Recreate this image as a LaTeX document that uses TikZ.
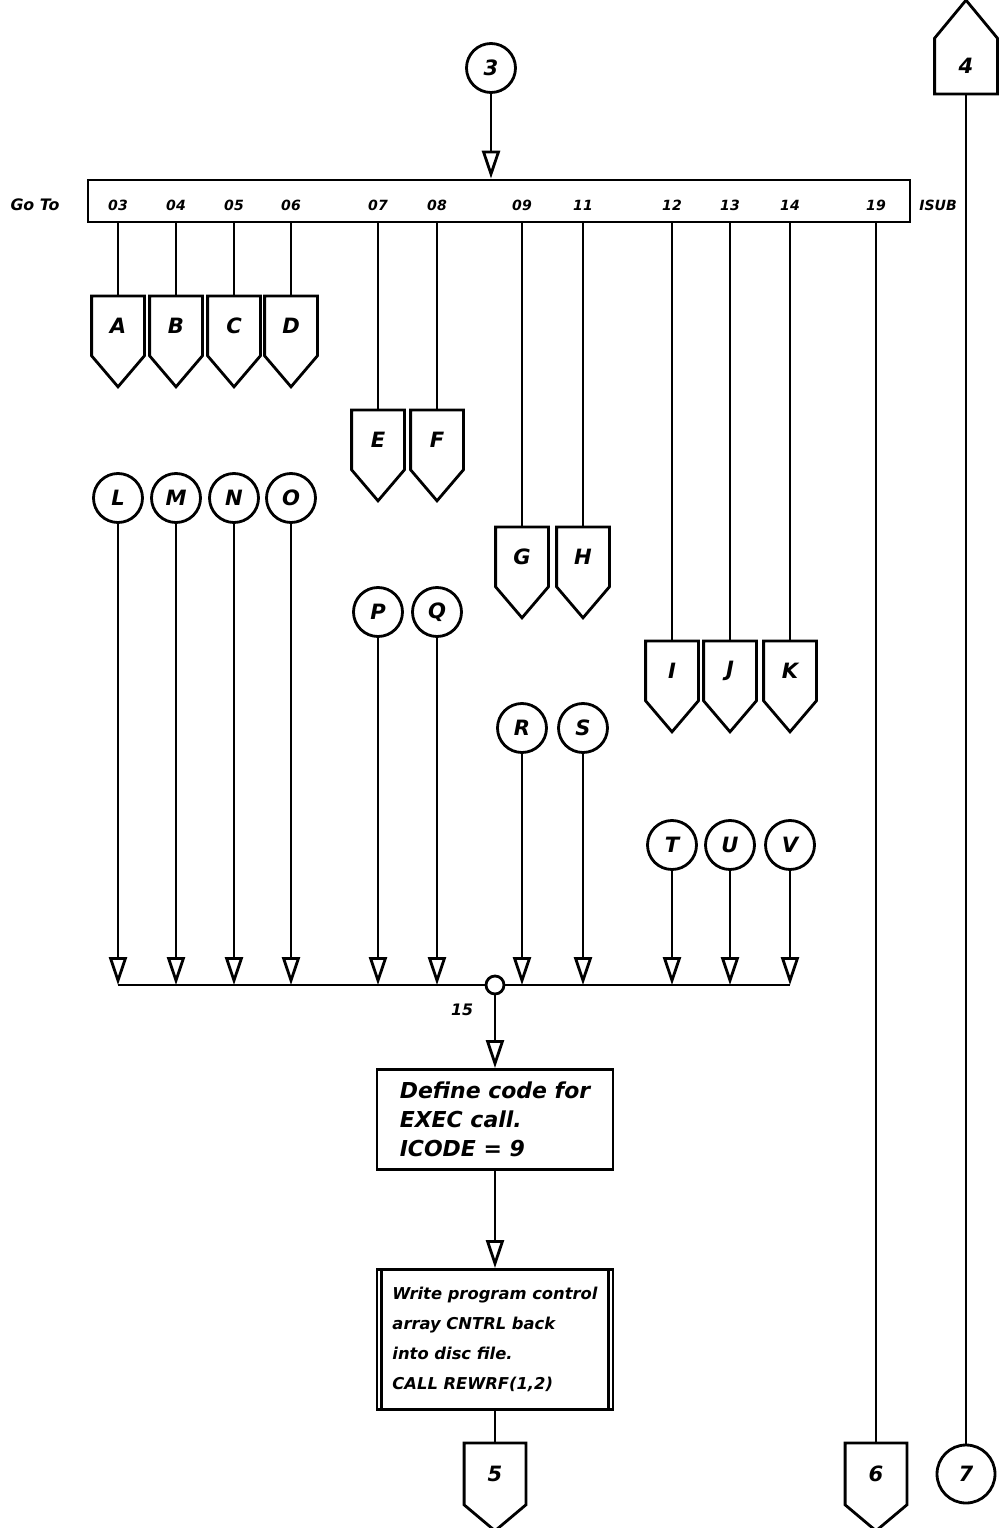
\documentclass[tikz,border=0pt]{standalone}
\usepackage{fontspec}
\setsansfont{DejaVu Sans}
\usetikzlibrary{arrows.meta}

\begin{document}
\begin{tikzpicture}[
    x=0.2mm, y=-0.2mm, % Pixelraster der Vorlage
    line width=1.6pt,
    % --- Schrift ---
    hand/.style={font=\sffamily\bfseries\itshape},
    % --- Knotenstile ---
    connector/.style={hand, draw, circle, minimum size=9.8mm, inner sep=0pt, font=\sffamily\bfseries\itshape\large},
    offpage/.style={hand, rectangle, minimum width=10mm, minimum height=11.4mm, inner sep=0pt, font=\sffamily\bfseries\itshape\large,
        append after command={\pgfextra{\draw (\tikzlastnode.north west) -- (\tikzlastnode.south west) -- ([yshift=-6.2mm]\tikzlastnode.south) -- (\tikzlastnode.south east) -- (\tikzlastnode.north east) -- cycle;}}},
    offpageLow/.style={hand, rectangle, minimum width=11.8mm, minimum height=11.8mm, inner sep=0pt, font=\sffamily\bfseries\itshape\large,
        append after command={\pgfextra{\draw (\tikzlastnode.north west) -- (\tikzlastnode.south west) -- ([yshift=-5.2mm]\tikzlastnode.south) -- (\tikzlastnode.south east) -- (\tikzlastnode.north east) -- cycle;}}},
    offpageUp/.style={hand, rectangle, minimum width=12mm, minimum height=10.6mm, inner sep=0pt, font=\sffamily\bfseries\itshape\large,
        append after command={\pgfextra{\draw (\tikzlastnode.south west) -- (\tikzlastnode.north west) -- ([yshift=7.6mm]\tikzlastnode.north) -- (\tikzlastnode.north east) -- (\tikzlastnode.south east) -- cycle;}}},
    process/.style={hand, draw, rectangle, minimum width=47.2mm, align=left},
    barLabel/.style={hand, font=\sffamily\bfseries\itshape\footnotesize},
    junction/.style={draw, circle, fill=white, minimum size=3.6mm, inner sep=0pt},
    % --- Linienstile ---
    flow/.style={-{Triangle[open, length=5.6mm, width=3.6mm, line width=1.6pt]}},
]
    \useasboundingbox (0,0) rectangle (1004,1528);

    % ===========================
    % 1. VERTEILER OBEN
    % ===========================
    \node[connector] (c3) at (491, 68) {3};
    \node[draw, rectangle, minimum width=164.4mm, minimum height=8.4mm, inner sep=0pt] (bar) at (499, 201) {};
    \node[barLabel, font=\sffamily\bfseries\itshape\small] (goto) at (35, 205) {Go To};
    \node[barLabel] (isub) at (938, 205) {ISUB};

    \node[barLabel] (l03) at (118, 205) {03};
    \node[barLabel] (l04) at (176, 205) {04};
    \node[barLabel] (l05) at (234, 205) {05};
    \node[barLabel] (l06) at (291, 205) {06};
    \node[barLabel] (l07) at (378, 205) {07};
    \node[barLabel] (l08) at (437, 205) {08};
    \node[barLabel] (l09) at (522, 205) {09};
    \node[barLabel] (l11) at (583, 205) {11};
    \node[barLabel] (l12) at (672, 205) {12};
    \node[barLabel] (l13) at (730, 205) {13};
    \node[barLabel] (l14) at (790, 205) {14};
    \node[barLabel] (l19) at (876, 205) {19};

    \draw[flow] (c3.south) -- (c3 |- bar.north);

    % ===========================
    % 2. AUSGAENGE (KONNEKTOREN)
    % ===========================
    \node[offpage, anchor=north] (A) at (118, 296) {A};
    \node[offpage, anchor=north] (B) at (176, 296) {B};
    \node[offpage, anchor=north] (C) at (234, 296) {C};
    \node[offpage, anchor=north] (D) at (291, 296) {D};
    \node[offpage, anchor=north] (E) at (378, 410) {E};
    \node[offpage, anchor=north] (F) at (437, 410) {F};
    \node[offpage, anchor=north] (G) at (522, 527) {G};
    \node[offpage, anchor=north] (H) at (583, 527) {H};
    \node[offpage, anchor=north] (I) at (672, 641) {I};
    \node[offpage, anchor=north] (J) at (730, 641) {J};
    \node[offpage, anchor=north] (K) at (790, 641) {K};

    \draw (A.north |- bar.south) -- (A.north);
    \draw (B.north |- bar.south) -- (B.north);
    \draw (C.north |- bar.south) -- (C.north);
    \draw (D.north |- bar.south) -- (D.north);
    \draw (E.north |- bar.south) -- (E.north);
    \draw (F.north |- bar.south) -- (F.north);
    \draw (G.north |- bar.south) -- (G.north);
    \draw (H.north |- bar.south) -- (H.north);
    \draw (I.north |- bar.south) -- (I.north);
    \draw (J.north |- bar.south) -- (J.north);
    \draw (K.north |- bar.south) -- (K.north);

    % ===========================
    % 3. EINGAENGE -> SAMMELLEITUNG
    % ===========================
    \node[connector] (L) at (118, 498) {L};
    \node[connector] (M) at (176, 498) {M};
    \node[connector] (N) at (234, 498) {N};
    \node[connector] (O) at (291, 498) {O};
    \node[connector] (P) at (378, 612) {P};
    \node[connector] (Q) at (437, 612) {Q};
    \node[connector] (R) at (522, 728) {R};
    \node[connector] (S) at (583, 728) {S};
    \node[connector] (T) at (672, 845) {T};
    \node[connector] (U) at (730, 845) {U};
    \node[connector] (V) at (790, 845) {V};

    \node[junction] (j15) at (495, 985) {};
    \node[barLabel, font=\sffamily\bfseries\itshape\small] (n15) at (462, 1010) {15};

    \draw (L.south |- j15) -- (j15.west);
    \draw (j15.east) -- (V.south |- j15);

    \draw[flow] (L.south) -- (L.south |- j15);
    \draw[flow] (M.south) -- (M.south |- j15);
    \draw[flow] (N.south) -- (N.south |- j15);
    \draw[flow] (O.south) -- (O.south |- j15);
    \draw[flow] (P.south) -- (P.south |- j15);
    \draw[flow] (Q.south) -- (Q.south |- j15);
    \draw[flow] (R.south) -- (R.south |- j15);
    \draw[flow] (S.south) -- (S.south |- j15);
    \draw[flow] (T.south) -- (T.south |- j15);
    \draw[flow] (U.south) -- (U.south |- j15);
    \draw[flow] (V.south) -- (V.south |- j15);

    % ===========================
    % 4. VERARBEITUNG
    % ===========================
    \node[process, minimum height=20mm, anchor=north, font=\sffamily\bfseries\itshape\fontsize{12.5}{16.5}\selectfont] (def) at (495, 1068) {Define code for\\EXEC call.\\ICODE = 9};
    \node[process, minimum height=28mm, anchor=north, font=\sffamily\bfseries\itshape\fontsize{9.3}{17}\selectfont] (rew) at (495, 1268) {Write program control\\array CNTRL back\\into disc file.\\CALL REWRF(1,2)};
    \draw ([xshift=1.2mm]rew.north west) -- ([xshift=1.2mm]rew.south west);
    \draw ([xshift=-1.2mm]rew.north east) -- ([xshift=-1.2mm]rew.south east);

    \node[offpageLow, anchor=north] (x5) at (495, 1443) {5};
    \node[offpageLow, anchor=north] (x6) at (876, 1443) {6};
    \node[connector, minimum size=11.6mm] (c7) at (966, 1474) {7};
    \node[offpageUp, anchor=south] (x4) at (966, 94) {4};

    \draw[flow] (j15.south) -- (def.north);
    \draw[flow] (def.south) -- (rew.north);
    \draw (rew.south) -- (x5.north);

    % Seitenverbindungen rechts
    \draw (x6.north |- bar.south) -- (x6.north);
    \draw (x4.south) -- (c7.north);

\end{tikzpicture}
\end{document}
